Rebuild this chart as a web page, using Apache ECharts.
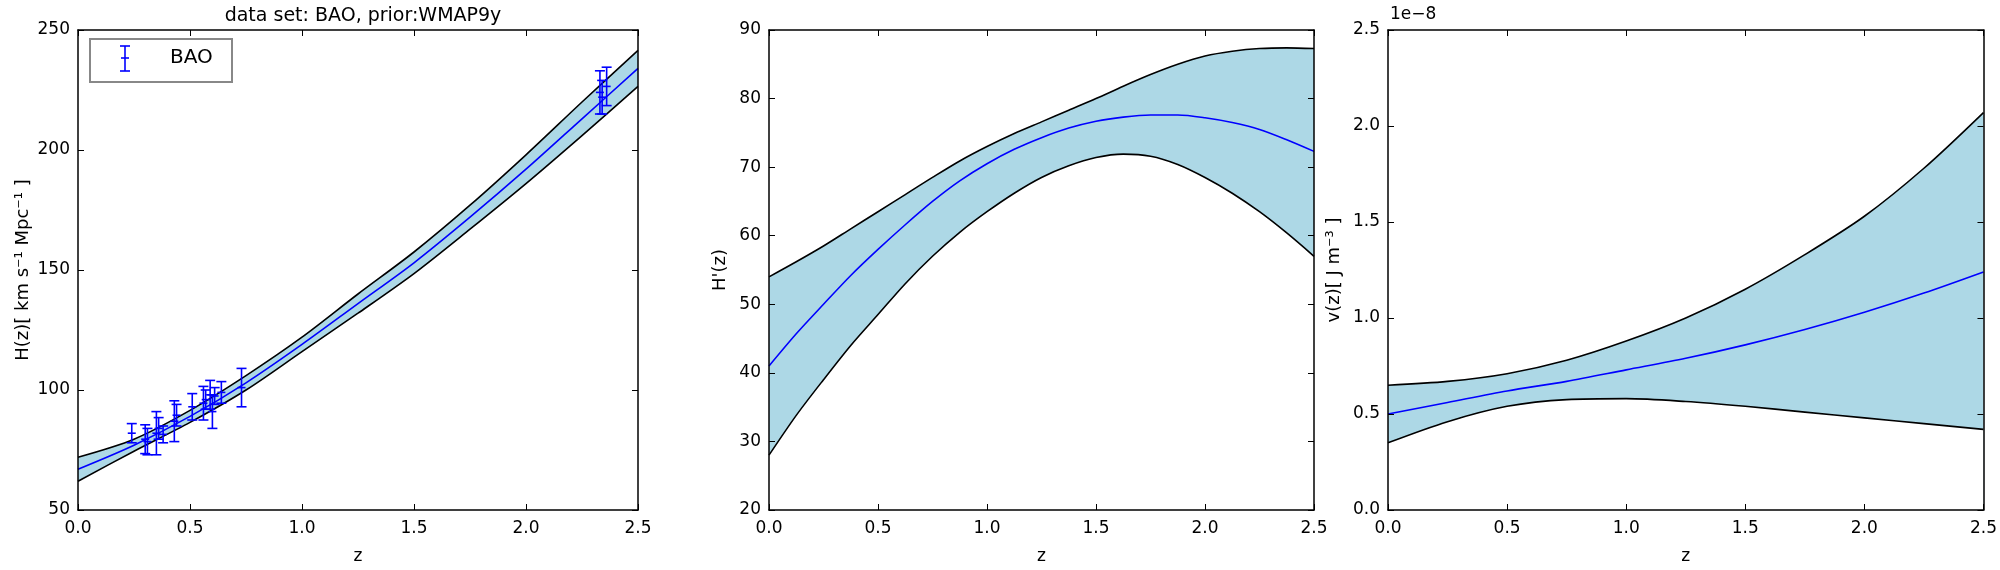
<!DOCTYPE html><html><head><meta charset="utf-8">
<script src="https://cdn.jsdelivr.net/npm/echarts@6/dist/echarts.min.js"></script>
<style>html,body{margin:0;padding:0;background:#fff}#c{width:2000px;height:570px}</style></head><body><div id="c"></div>
<script>
const zGrid=[0,0.25,0.5,0.75,1.0,1.25,1.5,1.75,2.0,2.25,2.5];
const hMean=[67,77,89,103,119,136,153,172,192,213,234];
const hUpper=[72,79.5,91.5,106,122,140,157.5,177,198,220,241.5];
const hLower=[62,74.5,86.5,100,116,132,148.5,167,186,206,226.5];
const zH2=[0,0.125,0.25,0.375,0.5,0.625,0.75,0.875,1.0,1.125,1.25,1.375,1.5,1.625,1.75,1.875,2.0,2.125,2.25,2.375,2.5];
const dUpper=[54,56.2,58.5,61,63.5,66,68.5,70.9,73,74.9,76.6,78.3,80,81.8,83.5,85,86.2,86.9,87.3,87.4,87.3];
const dMean=[41,45.7,50,54.2,58,61.6,65,68,70.5,72.6,74.3,75.7,76.7,77.3,77.6,77.6,77.2,76.5,75.5,74.0,72.3];
const dLower=[28,33.8,39,44,48.5,53,57,60.5,63.5,66.2,68.5,70.2,71.4,71.9,71.6,70.4,68.5,66.2,63.5,60.4,57];
const vUpper=[0.65,0.67,0.71,0.78,0.88,1.0,1.15,1.33,1.53,1.78,2.07];
const vMean=[0.50,0.56,0.62,0.67,0.73,0.79,0.86,0.94,1.03,1.13,1.24];
const vLower=[0.35,0.46,0.54,0.575,0.58,0.565,0.54,0.51,0.48,0.45,0.42];
const baoZ=[0.24,0.30,0.31,0.35,0.36,0.38,0.43,0.44,0.51,0.56,0.57,0.59,0.60,0.61,0.64,0.73,2.33,2.34,2.36];
const baoH=[82.0,79.5,78.5,82.0,84.0,81.5,87.0,89.5,93.0,94.5,96.0,98.0,91.0,97.5,99.0,101.0,224.0,222.0,226.5];
const baoErr=[4.0,6.0,5.5,9.0,4.5,3.5,8.5,4.5,5.5,7.0,4.0,6.0,7.0,3.5,4.5,8.0,9,7,8];

const font='DejaVu Sans';
const grids=[{left:78,top:30,width:560,height:488},{left:769,top:30,width:545,height:488},{left:1388,top:30,width:596,height:488}];
const yr=[[50,250,50],[20,90,10],[0,2.5,0.5]];
const ynames=['H(z)[ km s⁻¹ Mpc⁻¹ ]',"H'(z)",'v(z)[ J m⁻³ ]'];
const xAxis=[],yAxis=[];
grids.forEach((g,i)=>{
  const base={gridIndex:i,type:'value',min:0,max:2.5,interval:0.5,z:20,axisLine:{onZero:false,lineStyle:{color:'#000',width:1.5}},axisTick:{inside:true,length:6,lineStyle:{color:'#000'}},splitLine:{show:false}};
  xAxis.push(Object.assign({},base,{position:'bottom',name:'z',nameLocation:'middle',nameGap:38,nameTextStyle:{fontFamily:font,fontSize:17,color:'#000'},axisLabel:{fontFamily:font,fontSize:17,color:'#000',margin:10,formatter:v=>v.toFixed(1)}}));
  xAxis.push(Object.assign({},base,{position:'top',axisLabel:{show:false}}));
  const yb={gridIndex:i,type:'value',min:yr[i][0],max:yr[i][1],interval:yr[i][2],z:20,axisLine:{onZero:false,lineStyle:{color:'#000',width:1.5}},axisTick:{inside:true,length:6,lineStyle:{color:'#000'}},splitLine:{show:false}};
  yAxis.push(Object.assign({},yb,{position:'left',name:ynames[i],nameLocation:'middle',nameGap:i==0?46:i==1?40:45,nameTextStyle:{fontFamily:font,fontSize:18,color:'#000'},axisLabel:{fontFamily:font,fontSize:17,color:'#000',margin:8,formatter:v=>i==2?v.toFixed(1):String(v)}}));
  yAxis.push(Object.assign({},yb,{position:'right',axisLabel:{show:false}}));
});
const pairs=(xs,ys)=>xs.map((x,k)=>[x,ys[k]]);
const series=[];
function band(i,zs,lo,mid,up){
  const xi=2*i,yi=2*i,sm=0.3;
  series.push({type:'line',xAxisIndex:xi,yAxisIndex:yi,data:pairs(zs,up),smooth:sm,symbol:'none',lineStyle:{color:'#000',width:1.6},areaStyle:{color:'#add8e6',opacity:1,origin:'start'},z:2});
  series.push({type:'line',xAxisIndex:xi,yAxisIndex:yi,data:pairs(zs,lo),smooth:sm,symbol:'none',lineStyle:{color:'#000',width:1.6},areaStyle:{color:'#fff',opacity:1,origin:'start'},z:3});
  series.push({type:'line',xAxisIndex:xi,yAxisIndex:yi,data:pairs(zs,mid),smooth:sm,symbol:'none',lineStyle:{color:'#0000ff',width:1.6},z:6});
}
band(0,zGrid,hLower,hMean,hUpper);
band(1,zH2,dLower,dMean,dUpper);
band(2,zGrid,vLower,vMean,vUpper);
series.push({type:'custom',xAxisIndex:0,yAxisIndex:0,z:10,
  data:baoZ.map((z,k)=>[z,baoH[k],baoErr[k]]),
  renderItem:(p,api)=>{
    const x=api.value(0),y=api.value(1),e=api.value(2);
    const c=api.coord([x,y]),t=api.coord([x,y+e]),b=api.coord([x,y-e]);
    const st={stroke:'#0000ff',lineWidth:1.6};
    return {type:'group',children:[
      {type:'line',shape:{x1:c[0],y1:t[1],x2:c[0],y2:b[1]},style:st},
      {type:'line',shape:{x1:c[0]-5,y1:t[1],x2:c[0]+5,y2:t[1]},style:st},
      {type:'line',shape:{x1:c[0]-5,y1:b[1],x2:c[0]+5,y2:b[1]},style:st},
      {type:'line',shape:{x1:c[0]-4,y1:c[1],x2:c[0]+4,y2:c[1]},style:st}]};
  }});
const chart=echarts.init(document.getElementById('c'));
chart.setOption({animation:false,backgroundColor:'#fff',grid:grids,xAxis,yAxis,series,
  title:{text:'data set: BAO, prior:WMAP9y',left:358,top:2,textAlign:'center',textStyle:{fontFamily:font,fontSize:19,fontWeight:'normal',color:'#000'}},
  graphic:[
    {type:'rect',shape:{x:90,y:39,width:142,height:43},style:{fill:'#fff',stroke:'#888',lineWidth:2},z:20},
    {type:'line',shape:{x1:125,y1:46,x2:125,y2:71},style:{stroke:'#0000ff',lineWidth:1.6},z:21},
    {type:'line',shape:{x1:120,y1:46,x2:130,y2:46},style:{stroke:'#0000ff',lineWidth:1.6},z:21},
    {type:'line',shape:{x1:120,y1:71,x2:130,y2:71},style:{stroke:'#0000ff',lineWidth:1.6},z:21},
    {type:'line',shape:{x1:121,y1:58,x2:129,y2:58},style:{stroke:'#0000ff',lineWidth:1.6},z:21},
    {type:'text',x:170,y:48,style:{text:'BAO',fontFamily:font,fontSize:20,fill:'#000'},z:21},
    {type:'text',x:1390,y:6,style:{text:'1e−8',fontFamily:font,fontSize:17,fill:'#000'}}
  ]});
</script></body></html>
